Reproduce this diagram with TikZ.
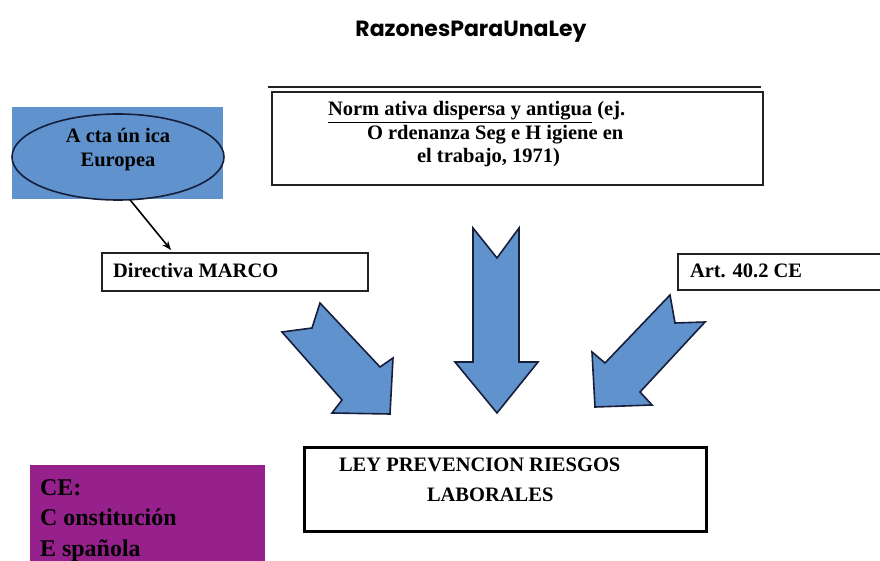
\documentclass[tikz,border=0pt]{standalone}
\usepackage{fontspec}
\setmainfont{Liberation Serif}
\newfontfamily\titlefont{Poppins}
\usetikzlibrary{shapes.geometric,arrows.meta}
\definecolor{blueF}{RGB}{96,146,206}
\definecolor{navy}{RGB}{22,30,58}
\definecolor{purp}{RGB}{150,32,140}
\definecolor{edge}{RGB}{34,34,34}
\begin{document}
\begin{tikzpicture}[x=1pt,y=-1pt,
  txt/.style={inner sep=0pt,outer sep=0pt,anchor=base west,font=\fontsize{20.5}{24}\selectfont\bfseries},
  ctxt/.style={txt,anchor=base},
  bigtxt/.style={txt,font=\fontsize{24}{28}\selectfont\bfseries},
  wbox/.style={draw=edge,line width=2pt,fill=white,inner sep=0pt},
  bigarrow/.style={draw=navy,line width=1.6pt,fill=blueF,line join=miter}]
\useasboundingbox (0,0) rectangle (880,561);
\fill[white] (0,0) rectangle (880,561);
% title
\node[inner sep=0pt,anchor=base,font=\titlefont\fontsize{22}{26}\selectfont\bfseries] (title) at (471,37) {RazonesParaUnaLey};
% blue rect + ellipse
\node[fill=blueF,inner sep=0pt,minimum width=211pt,minimum height=92pt] (bluebg) at (117.5,153) {};
\node[ellipse,draw=navy,line width=1.6pt,fill=blueF,minimum width=212pt,minimum height=86pt,inner sep=0pt] (ell) at (118,157) {};
\node[ctxt] (e1) at (118,143) {A cta ún ica};
\node[ctxt] (e2) at (118,167) {Europea};
% Norm box
\draw[line width=1.5pt,edge] (268,87) coordinate (tl) -- (761,87) coordinate (tr);
\node[wbox,minimum width=491pt,minimum height=93pt] (norm) at (517.5,138.5) {};
\node[txt] (n1) at (328,116) {\underline{Norm ativa dispersa y antigua} (ej.};
\node[txt] (n2) at (367,140) {O rdenanza Seg e H igiene en};
\node[txt] (n3) at (417,163) {el trabajo, 1971)};
% Directiva
\node[wbox,minimum width=266pt,minimum height=37pt] (dir) at (235,272) {};
\node[txt] (dt) at (113,277) {Directiva MARCO};
% Art
\node[wbox,minimum width=210pt,minimum height=36pt] (art) at (783,272) {};
\node[txt] (at) at (690,277) {Art. 40.2 CE};
% small arrow
\draw[line width=1.6pt,-{Stealth[length=9pt,width=7pt]}] ([xshift=12pt,yshift=1pt]ell.south) -- (171,250);
% big arrows
\draw[bigarrow] (320,303) -- (312,328) -- (282,332) -- (342,400) -- (332,413) -- (390,414) -- (393,358) -- (380,367) -- cycle;
\draw[bigarrow] (473,228) -- (497,258) -- (519,228) -- (519,362) -- (538,362) -- (497,413) -- (455,362) -- (473,362) -- cycle;
\draw[bigarrow] (670,295) -- (675,323) -- (705,322) -- (640,392) -- (652,405) -- (595,407) -- (592,352) -- (605,363) -- cycle;
% LEY box
\node[draw=black,line width=3pt,fill=white,inner sep=0pt,minimum width=402pt,minimum height=84pt] (ley) at (505,489.5) {};
\node[txt] (l1) at (339,471) {LEY PREVENCION RIESGOS};
\node[txt] (l2) at (427,501) {LABORALES};
% purple box
\node[fill=purp,inner sep=0pt,minimum width=235pt,minimum height=100pt,anchor=north west] (ce) at (30,465) {};
\node[bigtxt] (c1) at (40,495) {CE:};
\node[bigtxt] (c2) at (40,525) {C onstitución};
\node[bigtxt] (c3) at (40,556) {E spañola};
\end{tikzpicture}
\end{document}
